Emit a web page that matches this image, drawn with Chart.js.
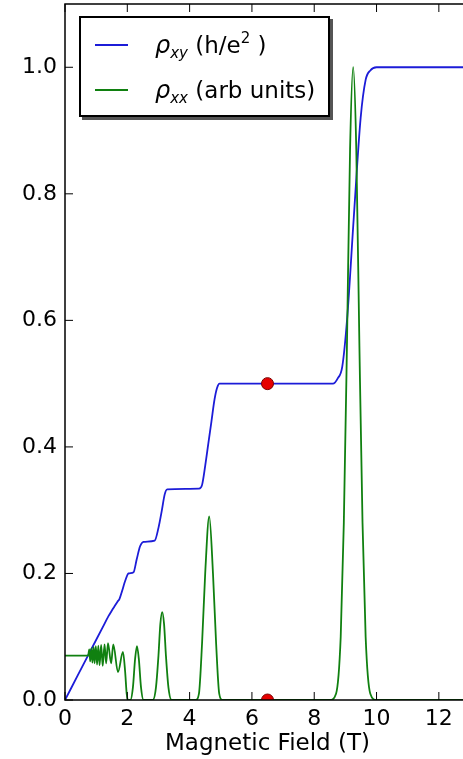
<!DOCTYPE html>
<html>
<head>
<meta charset="utf-8">
<script src="https://cdn.jsdelivr.net/npm/chart.js@4.4.0/dist/chart.umd.min.js"></script>
<style>
  html, body { margin: 0; padding: 0; background: #fff; overflow: hidden; }
  #wrap { position: relative; width: 463px; height: 759px; overflow: hidden; }
  #chart { position: absolute; left: 0; top: 0; }
  #legend { position: absolute; left: 79px; top: 16px; width: 251px; height: 101px; box-sizing: border-box;
            border: 2px solid #000; background: #fff; box-shadow: 3px 3px 0 #555;
            font-family: 'DejaVu Sans'; font-size: 23px; color: #000; }
  .row { position: absolute; left: 0; height: 30px; display: flex; align-items: center; white-space: nowrap; }
  .swatch { width: 33px; height: 2px; margin-left: 14px; margin-right: 27px; }
  .sym { font-style: italic; font-size: 24px; }
  .sym sub { font-size: 15px; font-style: italic; vertical-align: -5px; line-height: 0; }
  sup { font-size: 15px; vertical-align: 10px; line-height: 0; }
</style>
</head>
<body>
<div id="wrap">
  <canvas id="chart" width="475" height="759"></canvas>
  <div id="legend">
    <div class="row" style="top: 12px;"><span class="swatch" style="background:#1c1cd8"></span><span><span class="sym">ρ<sub>xy</sub></span>&nbsp;(h/e<sup>2</sup> )</span></div>
    <div class="row" style="top: 57px;"><span class="swatch" style="background:#108010"></span><span><span class="sym">ρ<sub>xx</sub></span>&nbsp;(arb units)</span></div>
  </div>
</div>
<script>
// Hall resistance rho_xy (h/e^2) against field (T)
const fieldXY = [0, 0.4, 0.8, 1.2, 1.4, 1.5, 1.6, 1.68, 1.75, 1.83, 1.93, 2.04, 2.2, 2.3, 2.41, 2.52,
                 2.88, 3.0, 3.11, 3.2, 3.28, 4.3, 4.4, 4.5, 4.6, 4.7, 4.8, 4.88, 4.96,
                 8.6, 8.75, 8.9, 9.06, 9.27, 9.49, 9.65, 9.8, 10.0, 13.0];
const rhoXY = [0, 0.038, 0.076, 0.114, 0.133, 0.141, 0.149, 0.155, 0.16, 0.172, 0.188, 0.2, 0.202, 0.222, 0.243, 0.25,
               0.252, 0.272, 0.3, 0.325, 0.333, 0.334, 0.34, 0.37, 0.405, 0.44, 0.475, 0.493, 0.5,
               0.5, 0.508, 0.527, 0.605, 0.763, 0.92, 0.98, 0.995, 1.0, 1.0];

// longitudinal resistance rho_xx (arb units)
const fieldXX = [0, 0.74, 0.78, 0.81, 0.85, 0.88, 0.92, 0.95, 0.99, 1.03, 1.07, 1.11, 1.16, 1.21, 1.27, 1.32,
                 1.38, 1.48, 1.55, 1.7, 1.86, 1.93, 1.98, 2.02, 2.1, 2.18, 2.25, 2.31, 2.37, 2.44, 2.52,
                 2.82, 2.92, 3.0, 3.06, 3.12, 3.18, 3.24, 3.32, 3.42,
                 4.2, 4.3, 4.4, 4.5, 4.63, 4.75, 4.85, 4.95, 5.05,
                 8.5, 8.7, 8.85, 8.95, 9.05, 9.15, 9.25, 9.35, 9.45, 9.55, 9.65, 9.8, 10.0, 13.0];
const rhoXX = [0.07, 0.07, 0.08, 0.061, 0.082, 0.059, 0.084, 0.058, 0.085, 0.056, 0.086, 0.055, 0.087, 0.054, 0.088, 0.058,
               0.09, 0.058, 0.088, 0.044, 0.076, 0.045, 0.01, 0, 0, 0.02, 0.065, 0.085, 0.065, 0.02, 0,
               0, 0.02, 0.07, 0.12, 0.139, 0.12, 0.07, 0.02, 0,
               0, 0.01, 0.09, 0.2, 0.29, 0.2, 0.09, 0.01, 0,
               0, 0.01, 0.1, 0.28, 0.56, 0.87, 1.0, 0.87, 0.56, 0.28, 0.1, 0.01, 0, 0];

// red markers on the nu=2 plateau
const markerField = [6.5, 6.5];
const markerRho = [0.5, 0.0];

const xTicks = [0, 2, 4, 6, 8, 10, 12];
const yTicks = [0, 0.2, 0.4, 0.6, 0.8, 1.0];

function toPoints(xs, ys) {
    return xs.map((v, i) => ({x: v, y: ys[i]}));
}

// matplotlib style frame with inward ticks
const framePlugin = {
    id: 'frame',
    afterDatasetsDraw(chart) {
        const {ctx, chartArea: a, scales: {x, y}} = chart;
        ctx.save();
        ctx.strokeStyle = '#000';
        ctx.lineWidth = 1.5;
        ctx.strokeRect(a.left, a.top, a.right - a.left, a.bottom - a.top);
        ctx.lineWidth = 1;
        ctx.beginPath();
        xTicks.forEach(v => {
            const px = x.getPixelForValue(v);
            ctx.moveTo(px, a.bottom); ctx.lineTo(px, a.bottom - 8);
            ctx.moveTo(px, a.top); ctx.lineTo(px, a.top + 8);
        });
        yTicks.forEach(v => {
            const py = y.getPixelForValue(v);
            ctx.moveTo(a.left, py); ctx.lineTo(a.left + 8, py);
        });
        ctx.stroke();
        ctx.restore();
    }
};

const ctx = document.getElementById('chart').getContext('2d');

new Chart(ctx, {
    type: 'line',
    data: {
        datasets: [
            {
                type: 'scatter',
                data: toPoints(markerField, markerRho),
                backgroundColor: '#e60000',
                borderColor: '#7a0000',
                borderWidth: 1,
                pointRadius: 6,
                clip: {left: 0, top: 0, right: 0, bottom: 0},
                order: 0
            },
            {
                data: toPoints(fieldXX, rhoXX),
                borderColor: '#108010',
                borderWidth: 1.8,
                pointRadius: 0,
                cubicInterpolationMode: 'monotone',
                order: 1
            },
            {
                data: toPoints(fieldXY, rhoXY),
                borderColor: '#1c1cd8',
                borderWidth: 1.8,
                pointRadius: 0,
                cubicInterpolationMode: 'monotone',
                order: 2
            }
        ]
    },
    options: {
        responsive: false,
        animation: false,
        layout: {autoPadding: false, padding: {top: 4, right: 5, left: 0, bottom: 0}},
        plugins: {
            legend: {display: false},
            tooltip: {enabled: false}
        },
        scales: {
            x: {
                type: 'linear',
                min: 0,
                max: 13,
                afterFit: scale => {
                    scale.height = 59;
                    scale.paddingLeft = 0;
                    scale.paddingRight = 0;
                },
                afterBuildTicks: scale => { scale.ticks = xTicks.map(v => ({value: v})); },
                grid: {display: false, drawTicks: false},
                border: {display: false},
                ticks: {
                    color: '#000',
                    padding: 6,
                    font: {family: 'DejaVu Sans', size: 22},
                    callback: v => String(v)
                },
                title: {
                    display: true,
                    text: 'Magnetic Field (T)',
                    color: '#000',
                    font: {family: 'DejaVu Sans', size: 23},
                    padding: {top: 0, bottom: 1}
                }
            },
            y: {
                min: 0,
                max: 1.1,
                afterFit: scale => {
                    scale.width = 65;
                    scale.paddingTop = 0;
                    scale.paddingBottom = 0;
                },
                afterBuildTicks: scale => { scale.ticks = yTicks.map(v => ({value: v})); },
                grid: {display: false, drawTicks: false},
                border: {display: false},
                ticks: {
                    color: '#000',
                    padding: 8,
                    font: {family: 'DejaVu Sans', size: 22},
                    callback: v => v.toFixed(1)
                }
            }
        }
    },
    plugins: [framePlugin]
});
</script>
</body>
</html>
